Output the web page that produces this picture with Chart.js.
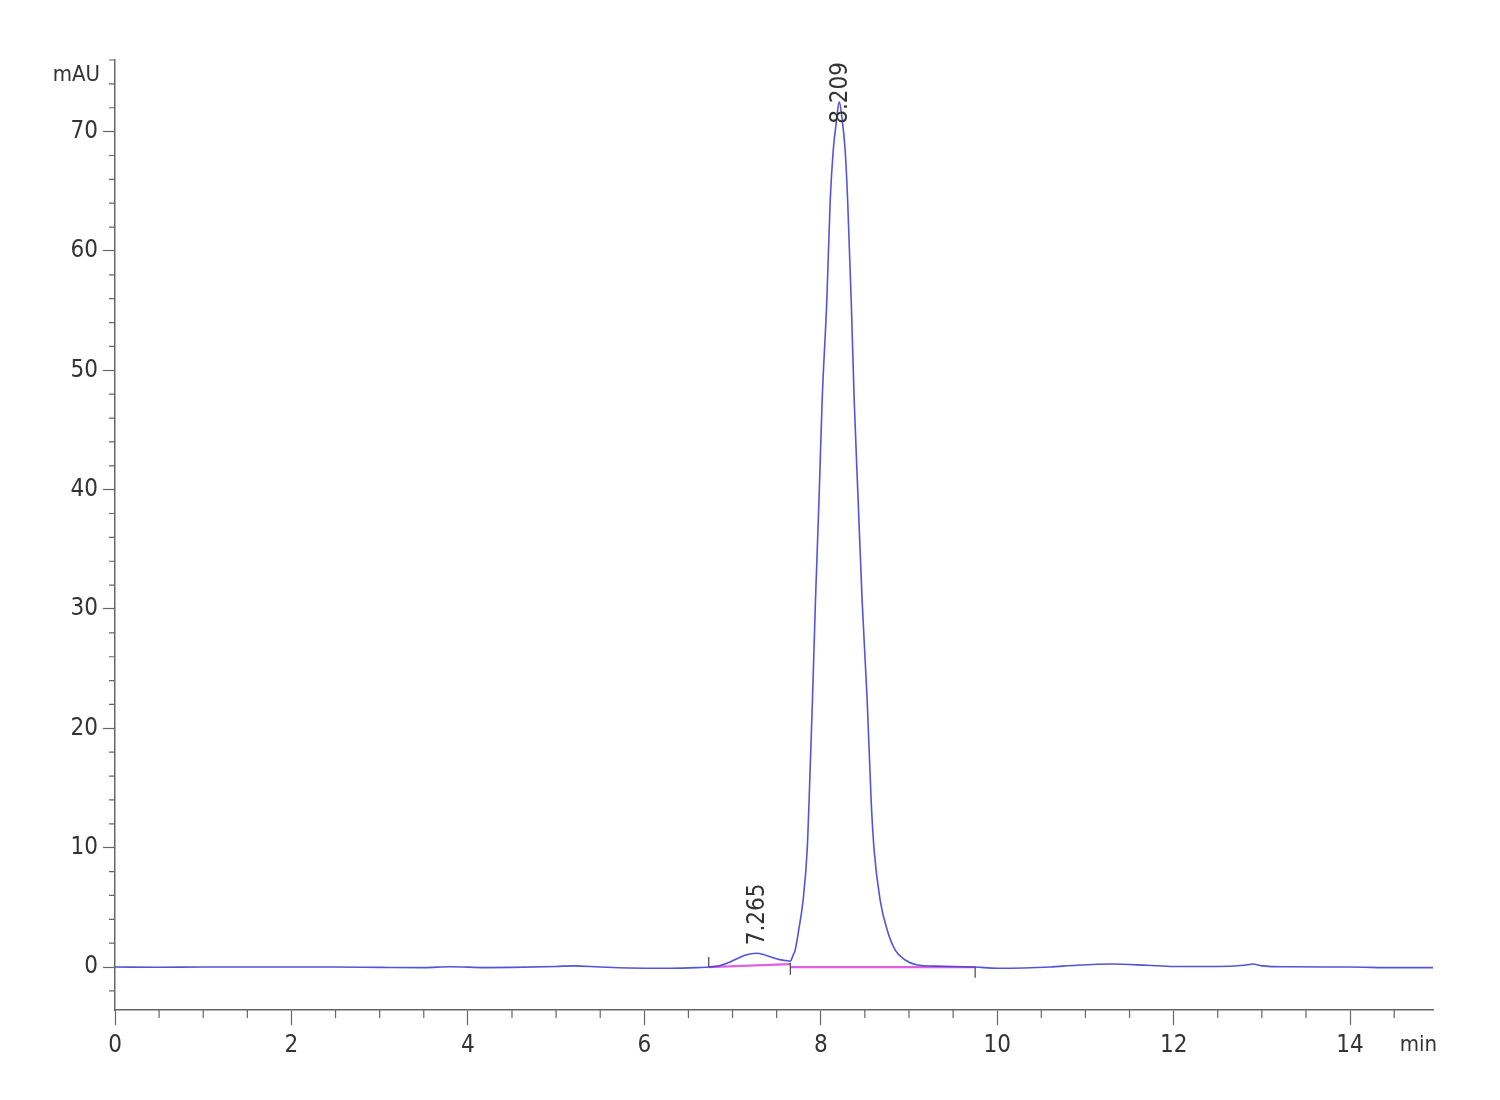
<!DOCTYPE html>
<html lang="en">
<head>
    <meta charset="UTF-8">
    <title>Chromatogram</title>
    <script src="https://cdn.jsdelivr.net/npm/chart.js"></script>
    <style>
        body {
            margin: 0;
            background: #fff;
        }
        #wrap {
            width: 1500px;
            height: 1100px;
        }
    </style>
</head>
<body>
    <div id="wrap">
        <canvas id="chroma" width="1500" height="1100"></canvas>
    </div>

    <script>
        // retention time (min) and detector signal (mAU)
        const times = [
            0, 0.5, 1, 1.5, 2, 2.5, 3, 3.5, 3.8, 4.2, 4.5, 5, 5.2, 5.5, 6, 6.3, 6.6,
            6.73, 6.85, 6.95, 7.05, 7.15, 7.265, 7.35, 7.45, 7.55, 7.62, 7.655,
            7.687, 7.71, 7.75, 7.8, 7.846, 7.868, 7.906, 7.94, 7.98, 8.016, 8.069,
            8.107, 8.141, 8.18, 8.209, 8.243, 8.277, 8.305, 8.345, 8.379, 8.424,
            8.469, 8.526, 8.571, 8.605, 8.673, 8.753, 8.844, 8.957, 9.093, 9.3, 9.5, 9.75,
            10.0, 10.3, 10.6, 10.9, 11.3, 11.7, 12.0, 12.5,
            12.8, 12.9, 13.0, 13.3, 14.0, 14.5, 14.94
        ];
        const signal = [
            0, -0.02, 0, 0, 0, 0, -0.03, -0.05, 0.03, -0.05, -0.03, 0.05, 0.1, 0, -0.1, -0.1, -0.05,
            0, 0.1, 0.35, 0.7, 1.0, 1.15, 1.05, 0.8, 0.6, 0.52, 0.5,
            1.0, 1.42, 3.1, 5.6, 9.8, 14.0, 22.4, 30.7, 39.1, 47.5, 55.9,
            64.2, 68.4, 71.0, 72.5, 71.0, 68.4, 64.2, 55.9, 47.5, 39.1,
            30.7, 22.4, 14.0, 9.8, 5.6, 3.1, 1.42, 0.59, 0.17, 0.08, 0.04, 0,
            -0.1, -0.08, 0, 0.15, 0.25, 0.15, 0.05, 0.05,
            0.15, 0.25, 0.1, 0.02, 0, -0.05, -0.05
        ];

        // peak annotations
        const peakTimes = [7.265, 8.209];
        const peakHeights = [1.15, 72.5];
        const peakLabels = ['7.265', '8.209'];

        // integration baselines (magenta) and peak boundary marks
        const baseStart = [6.73, 7.655];
        const baseEnd = [7.655, 9.75];
        const baseStartY = [0, 0];
        const baseEndY = [0.25, 0];
        const markTimes = [6.73, 7.655, 9.75];
        const markTop = [0.85, 0.35, 0];
        const markBottom = [0, -0.65, -0.9];

        const xTickLabels = ['0', '2', '4', '6', '8', '10', '12', '14'];
        const yTickLabels = ['0', '10', '20', '30', '40', '50', '60', '70'];

        const FONT = "'Liberation Sans Narrow', 'DejaVu Sans Condensed', 'Liberation Sans', Arial, sans-serif";
        const AXIS = '#666';

        const datasets = [{
            label: 'signal',
            data: times.map((t, i) => ({ x: t, y: signal[i] })),
            borderColor: 'rgba(65, 65, 210, 0.9)',
            borderWidth: 1.6,
            pointRadius: 0,
            cubicInterpolationMode: 'monotone',
            order: 1
        }];
        baseStart.forEach((t, i) => {
            datasets.push({
                label: 'baseline ' + (i + 1),
                data: [{ x: t, y: baseStartY[i] }, { x: baseEnd[i], y: baseEndY[i] }],
                borderColor: '#e060e0',
                borderWidth: 2.2,
                pointRadius: 0,
                order: 2
            });
        });
        markTimes.forEach((t, i) => {
            datasets.push({
                label: 'mark ' + (i + 1),
                data: [{ x: t, y: markTop[i] }, { x: t, y: markBottom[i] }],
                borderColor: '#444',
                borderWidth: 1.2,
                pointRadius: 0,
                order: 0
            });
        });

        // minor ticks, axis units and peak labels
        const extras = {
            id: 'extras',
            afterDraw(chart) {
                const { ctx, chartArea } = chart;
                const xs = chart.scales.x;
                const ys = chart.scales.y;
                ctx.save();
                ctx.strokeStyle = AXIS;
                ctx.lineWidth = 1.2;
                ctx.beginPath();
                for (let v = -2; v <= 76; v += 2) {
                    if (v % 10 === 0) continue;
                    const py = ys.getPixelForValue(v);
                    ctx.moveTo(chartArea.left - 6, py);
                    ctx.lineTo(chartArea.left, py);
                }
                for (let v = 0.5; v <= xs.max; v += 0.5) {
                    if (v % 2 === 0) continue;
                    const px = xs.getPixelForValue(v);
                    ctx.moveTo(px, chartArea.bottom);
                    ctx.lineTo(px, chartArea.bottom + 8);
                }
                ctx.stroke();

                ctx.fillStyle = '#333';
                ctx.font = '22px ' + FONT;
                ctx.textBaseline = 'middle';
                ctx.textAlign = 'right';
                ctx.fillText('mAU', 100, 75);
                ctx.fillText('min', 1437, 1045);

                ctx.font = '24px ' + FONT;
                ctx.textAlign = 'left';
                peakTimes.forEach((t, i) => {
                    const w = ctx.measureText(peakLabels[i]).width;
                    const px = xs.getPixelForValue(t);
                    let py = ys.getPixelForValue(peakHeights[i]) - 8;
                    py = Math.max(py, chartArea.top + w + 2);
                    ctx.save();
                    ctx.translate(px + 2, py);
                    ctx.rotate(-Math.PI / 2);
                    ctx.fillText(peakLabels[i], 0, 0);
                    ctx.restore();
                });
                ctx.restore();
            }
        };

        new Chart(document.getElementById('chroma'), {
            type: 'line',
            data: { datasets },
            plugins: [extras],
            options: {
                responsive: false,
                animation: false,
                devicePixelRatio: 1,
                layout: { padding: { top: 60, right: 67, left: 0, bottom: 0 } },
                plugins: {
                    legend: { display: false },
                    tooltip: { enabled: false }
                },
                scales: {
                    x: {
                        type: 'linear',
                        min: 0,
                        max: 14.94,
                        afterFit(scale) { scale.height = 90; },
                        border: { display: true, color: AXIS, width: 1.5 },
                        grid: {
                            drawOnChartArea: false,
                            drawTicks: true,
                            tickLength: 15,
                            tickWidth: 1.2,
                            tickColor: c => (c.tick && xTickLabels.includes(String(c.tick.value))) ? AXIS : 'rgba(0,0,0,0)'
                        },
                        ticks: {
                            stepSize: 0.5,
                            includeBounds: false,
                            autoSkip: false,
                            maxRotation: 0,
                            padding: 6,
                            color: '#333',
                            font: { family: FONT, size: 24 },
                            callback: v => xTickLabels.includes(String(v)) ? String(v) : ''
                        }
                    },
                    y: {
                        type: 'linear',
                        min: -3.6,
                        max: 76,
                        afterFit(scale) { scale.width = 115; },
                        border: { display: true, color: AXIS, width: 1.5 },
                        grid: {
                            drawOnChartArea: false,
                            drawTicks: true,
                            tickLength: 12,
                            tickWidth: 1.2,
                            tickColor: c => (c.tick && yTickLabels.includes(String(c.tick.value))) ? AXIS : 'rgba(0,0,0,0)'
                        },
                        ticks: {
                            stepSize: 2,
                            includeBounds: false,
                            autoSkip: false,
                            padding: 5,
                            color: '#333',
                            font: { family: FONT, size: 24 },
                            callback: v => yTickLabels.includes(String(v)) ? String(v) : ''
                        }
                    }
                }
            }
        });
    </script>
</body>
</html>
